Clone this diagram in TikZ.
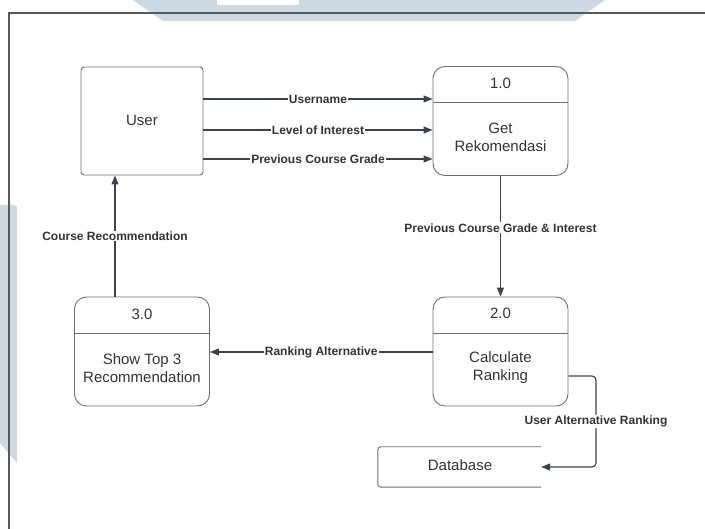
\documentclass[tikz,border=0pt]{standalone}
\usepackage{fontspec}
\setmainfont{Liberation Sans}
\usetikzlibrary{arrows.meta}
\definecolor{wmblue}{HTML}{CDD9E3}
\definecolor{framegray}{HTML}{555A5F}
\definecolor{boxgray}{HTML}{6E6E6E}
\definecolor{arrowcol}{HTML}{3D434C}
\definecolor{txt}{HTML}{333333}
\begin{document}
\begin{tikzpicture}[x=1pt,y=-1pt,
  boxtext/.style={font=\fontsize{15}{18}\selectfont, text=txt, align=center},
  proc/.style={draw=boxgray, line width=0.9pt, rounded corners=12pt, minimum width=135pt, minimum height=109pt, inner sep=0pt},
  lbl/.style={font=\bfseries\fontsize{12}{14}\selectfont, text=txt, fill=white, inner sep=1pt},
  flow/.style={draw=arrowcol, line width=1.2pt, -{Triangle[length=9pt,width=7pt]}}
]
\useasboundingbox (0,0) rectangle (705,529);
% watermark shapes
\fill[wmblue] (133,0) -- (605,0) -- (575,21) -- (163,21) -- cycle;
\fill[white] (217,0) rectangle (299,5);
\fill[wmblue] (0,205) -- (14,205) to[out=0,in=90] (17,208) -- (17,463) -- (0,443) -- cycle;
% frame
\draw[framegray, line width=1.4pt] (9,529) -- (9,13) -- (705,13);

% nodes
\node[draw=boxgray, line width=0.9pt, rounded corners=3pt, minimum width=122pt, minimum height=108pt, inner sep=0pt] (user) at (142,121) {};
\node[boxtext] at (142,120) {User};

\node[proc] (p1) at (500.5,121) {};
\draw[boxgray, line width=0.9pt] (p1.west |- 0,102) -- (p1.east |- 0,102);
\node[boxtext] (p1n) at (500.5,83) {1.0};
\node[boxtext] (p1t) at (500.5,137) {Get\\Rekomendasi};

\node[proc] (p2) at (500.5,351.5) {};
\draw[boxgray, line width=0.9pt] (p2.west |- 0,333) -- (p2.east |- 0,333);
\node[boxtext] (p2n) at (500.5,313) {2.0};
\node[boxtext] (p2t) at (500.5,367.5) {Calculate\\Ranking};

\node[proc] (p3) at (142,351.5) {};
\draw[boxgray, line width=0.9pt] (p3.west |- 0,333) -- (p3.east |- 0,333);
\node[boxtext] (p3n) at (142,314) {3.0};
\node[boxtext] (p3t) at (142,368) {Show Top 3\\Recommendation};

\node[minimum width=163pt, minimum height=40pt, inner sep=0pt] (db) at (459.5,467) {};
\draw[boxgray, line width=0.9pt, rounded corners=3pt] (db.north east) -- (db.north west) -- (db.south west) -- (db.south east);
\node[boxtext] (dbt) at (460,465) {Database};

% connectors
\coordinate (y1) at (0,99);
\coordinate (y2) at (0,130);
\coordinate (y3) at (0,159);
\draw[flow] (user.east |- y1) -- node[lbl]{Username} (p1.west |- y1);
\draw[flow] (user.east |- y2) -- node[lbl]{Level of Interest} (p1.west |- y2);
\draw[flow] (user.east |- y3) -- node[lbl]{Previous Course Grade} (p1.west |- y3);

\draw[flow] (p1.south) -- node[lbl, pos=0.43]{Previous Course Grade \& Interest} (p2.north);

\coordinate (yr) at (0,352);
\draw[flow] (p2.west |- yr) -- node[lbl]{Ranking Alternative} (p3.east |- yr);

\coordinate (xc) at (115,0);
\draw[flow] (p3.north -| xc) -- node[lbl]{Course Recommendation} (user.south -| xc);

\coordinate (b1) at (596,376);
\coordinate (b2) at (596,467);
\draw[flow, rounded corners=4pt] (p2.east |- b1) -- (b1) -- node[lbl]{User Alternative Ranking} (b2) -- (db.east);
\end{tikzpicture}
\end{document}
